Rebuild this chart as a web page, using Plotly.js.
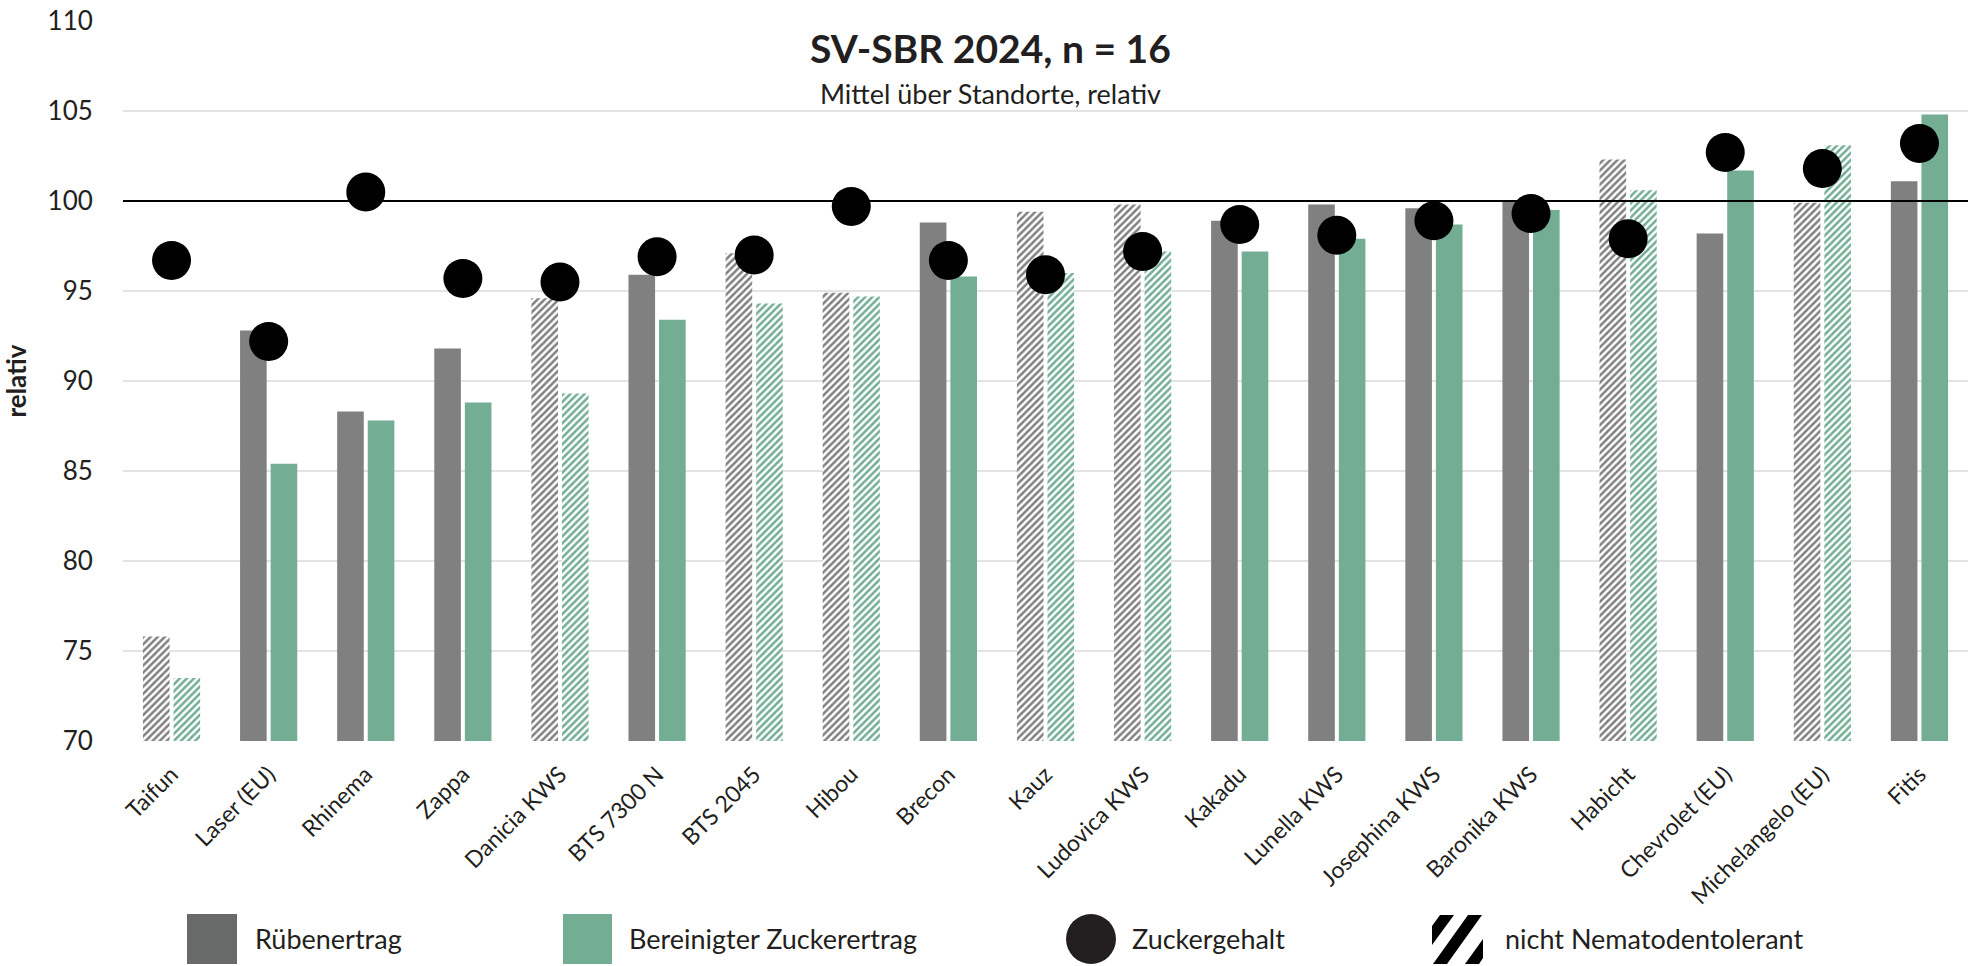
<!DOCTYPE html>
<html>
<head>
<meta charset="utf-8">
<script src="https://cdn.plot.ly/plotly-3.0.1.min.js"></script>
<style>html,body{margin:0;padding:0;background:#fff;}#chart{width:1984px;height:966px;}</style>
</head>
<body>
<div id="chart"></div>
<script>
const categories = ["Taifun","Laser (EU)","Rhinema","Zappa","Danicia KWS","BTS 7300 N","BTS 2045","Hibou","Brecon","Kauz","Ludovica KWS","Kakadu","Lunella KWS","Josephina KWS","Baronika KWS","Habicht","Chevrolet (EU)","Michelangelo (EU)","Fitis"];
const ruebenertrag = [75.8, 92.8, 88.3, 91.8, 94.6, 95.9, 97.1, 94.9, 98.8, 99.4, 99.8, 98.9, 99.8, 99.6, 100.0, 102.3, 98.2, 99.9, 101.1];
const zuckerertrag = [73.5, 85.4, 87.8, 88.8, 89.3, 93.4, 94.3, 94.7, 95.8, 96.0, 97.2, 97.2, 97.9, 98.7, 99.5, 100.6, 101.7, 103.1, 104.8];
const zuckergehalt = [96.7, 92.2, 100.5, 95.7, 95.5, 96.9, 97.0, 99.7, 96.7, 95.9, 97.2, 98.7, 98.1, 98.9, 99.3, 97.9, 102.7, 101.8, 103.2];
const nichtNematodentolerant = [true,false,false,false,true,false,true,true,false,true,true,false,false,false,false,true,false,true,false];
const yTicks = [70, 75, 80, 85, 90, 95, 100, 105, 110];
const referenceValue = 100;
const legendLabels = ["Rübenertrag", "Bereinigter Zuckerertrag", "Zuckergehalt", "nicht Nematodentolerant"];

const GRAY = "#808080", GREEN = "#72AD94", LEG_GRAY = "#696B6B", TXT = "#231f20";
const W = 1984, H = 966;
const M = {l:123, r:16, t:21, b:225};
const PW = W - M.l - M.r, PH = H - M.t - M.b;
const px = x => (x - M.l) / PW;
const py = y => (H - M.b - y) / PH;

const patShapes = nichtNematodentolerant.map(h => h ? "/" : "");
const FONT = "Lato, 'Open Sans', sans-serif";

const traces = [
  {type:"bar", x:categories, y:ruebenertrag, name:legendLabels[0], showlegend:false,
   marker:{color:GRAY, line:{width:0}, pattern:{shape:patShapes, fgcolor:GRAY, bgcolor:"#ffffff", size:5, solidity:0.5, fillmode:"replace"}}},
  {type:"bar", x:categories, y:zuckerertrag, name:legendLabels[1], showlegend:false,
   marker:{color:GREEN, line:{width:0}, pattern:{shape:patShapes, fgcolor:GREEN, bgcolor:"#ffffff", size:5, solidity:0.5, fillmode:"replace"}}},
  {type:"scatter", mode:"markers", x:categories, y:zuckergehalt, name:legendLabels[2], showlegend:false,
   marker:{color:"#000000", size:39, line:{width:0}}}
];

const shapes = [
  {type:"rect", xref:"paper", yref:"paper", x0:px(693), x1:px(1284), y0:py(114), y1:py(0), fillcolor:"#ffffff", line:{width:0}, layer:"between"},
  {type:"line", xref:"paper", yref:"y", x0:0, x1:1, y0:referenceValue, y1:referenceValue, line:{color:"#000000", width:2.2}, layer:"above"},
  {type:"rect", xref:"paper", yref:"paper", x0:px(187), x1:px(237), y0:py(964), y1:py(914), fillcolor:LEG_GRAY, line:{width:0}},
  {type:"rect", xref:"paper", yref:"paper", x0:px(563), x1:px(612), y0:py(964), y1:py(914), fillcolor:GREEN, line:{width:0}},
  {type:"circle", xref:"paper", yref:"paper", x0:px(1066), x1:px(1116), y0:py(964), y1:py(914), fillcolor:TXT, line:{width:0}}
];
const stripes = [
  [[1432,945],[1432,926],[1440,915],[1454,915]],
  [[1433,964],[1447,964],[1482,915],[1468,915]],
  [[1465,964],[1479,964],[1483,958],[1483,939]]
];
stripes.forEach(pts => {
  const p = pts.map((q,i) => (i===0?"M":"L") + px(q[0]).toFixed(5) + "," + py(q[1]).toFixed(5)).join(" ") + " Z";
  shapes.push({type:"path", xref:"paper", yref:"paper", path:p, fillcolor:"#000000", line:{width:0}});
});

const legendTextX = [253, 627, 1130, 1503];
const annotations = [
  {xref:"paper", yref:"paper", x:px(990), y:py(48), text:"<b>SV-SBR 2024, n = 16</b>", showarrow:false, xanchor:"center", yanchor:"middle", font:{family:FONT, size:39, color:TXT}},
  {xref:"paper", yref:"paper", x:px(990), y:py(94), text:"Mittel über Standorte, relativ", showarrow:false, xanchor:"center", yanchor:"middle", font:{family:FONT, size:27, color:TXT}}
];
legendLabels.forEach((t,i) => annotations.push({xref:"paper", yref:"paper", x:px(legendTextX[i]), y:py(938), text:t, showarrow:false, xanchor:"left", yanchor:"middle", font:{family:FONT, size:27, color:TXT}}));

const layout = {
  width:W, height:H, margin:M,
  paper_bgcolor:"#ffffff", plot_bgcolor:"#ffffff",
  font:{family:FONT, color:TXT},
  barmode:"group", bargap:0.37, bargroupgap:0.13,
  showlegend:false,
  xaxis:{type:"category", range:[-0.5, categories.length - 0.5], tickangle:-45, tickfont:{family:FONT, size:23, color:TXT},
         showgrid:false, zeroline:false, showline:false, ticks:"outside", ticklen:10, tickcolor:"rgba(0,0,0,0)", automargin:false},
  yaxis:{range:[70,110], tickvals:yTicks, ticktext:yTicks.map(String), tickfont:{family:FONT, size:26, color:TXT},
         gridcolor:"#e3e3e3", gridwidth:1.5, zeroline:false, showline:false, ticks:"outside", ticklen:24, tickcolor:"rgba(0,0,0,0)",
         title:{text:"<b>relativ</b>", font:{family:FONT, size:26, color:TXT}, standoff:14}, automargin:false},
  shapes:shapes, annotations:annotations
};

Plotly.newPlot("chart", traces, layout, {displayModeBar:false, staticPlot:true});
</script>
</body>
</html>
